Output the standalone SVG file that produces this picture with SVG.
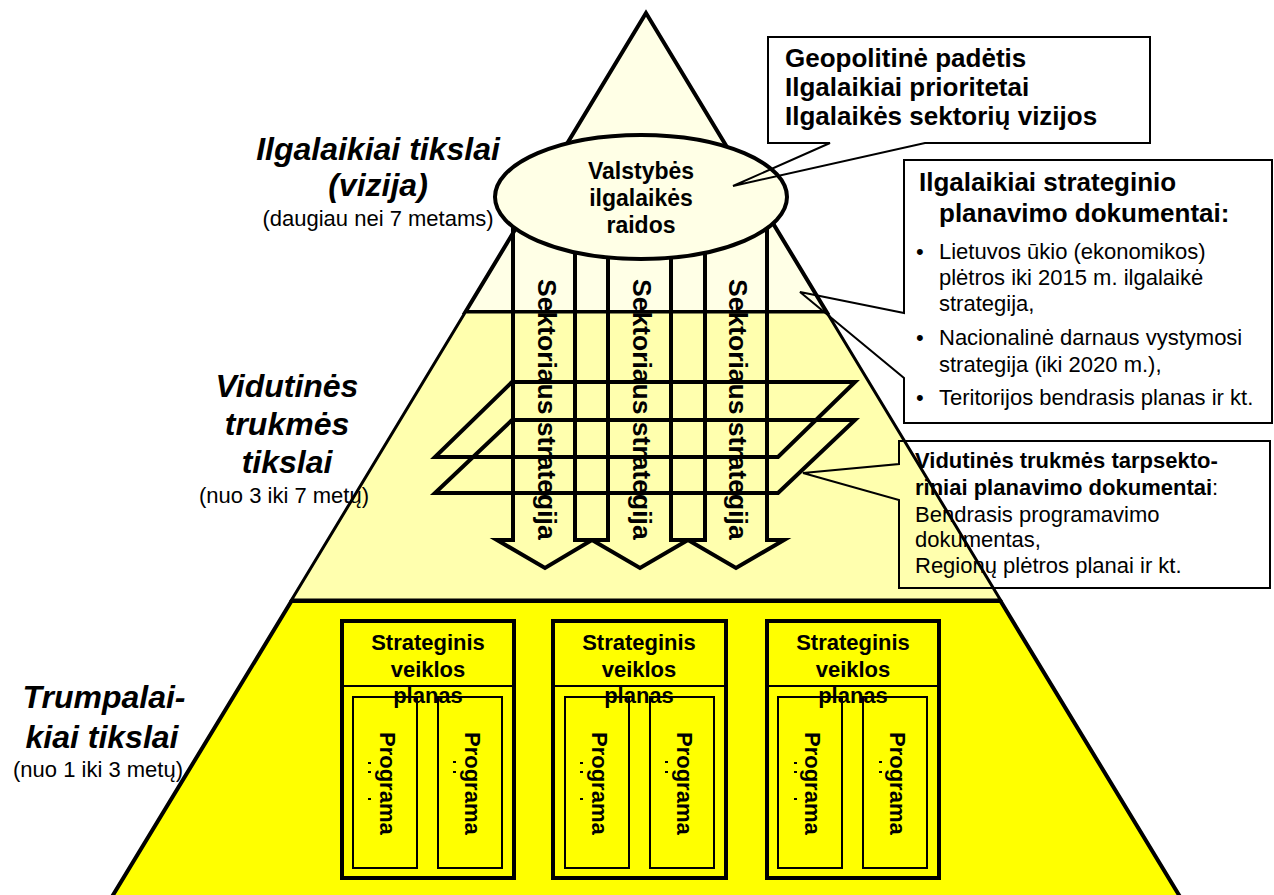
<svg xmlns="http://www.w3.org/2000/svg" width="1274" height="895" viewBox="0 0 1274 895">
<style>
text{font-family:"Liberation Sans",Arial,sans-serif;fill:#000}
.b{font-weight:bold}
.ti{font-weight:bold;font-style:italic;font-size:32px;text-anchor:middle}
.sub{font-size:22px;text-anchor:middle}
.sect{fill:none;stroke:#000;stroke-width:4;stroke-linejoin:miter}
.call{fill:none;stroke:#000;stroke-width:2}
.arrtxt{font-weight:bold;font-size:26.5px}
.prog{font-weight:bold;font-size:22px}
.hdr{font-weight:bold;font-size:22px;text-anchor:middle}
.box{fill:none;stroke:#000;stroke-width:4}
.pbox{fill:none;stroke:#000;stroke-width:2}
.dot{fill:#000}
.t22{font-size:22px}
.t26{font-size:26px;font-weight:bold}
</style>
<rect width="1274" height="895" fill="#fff"/>
<g id="pyramid">
  <polygon points="646,13 465.4,312 826.6,312" fill="#FFFFE6" stroke="#000" stroke-width="4" stroke-linejoin="miter"/>
  <polygon points="465.4,312 826.6,312 1000.5,600 291.5,600" fill="#FFFFAE" stroke="#000" stroke-width="3"/>
  <polygon points="291.5,601 1000.5,601 1182,900 110,900" fill="#FFFF00" stroke="#000" stroke-width="4"/>
</g>
<g id="connectors">
  <path class="sect" d="M513,200 V540 H497 L545,568 L592,540 H575 V200"/>
  <path class="sect" d="M608,200 V540 H592 L640,568 L688,540 H671 V200"/>
  <path class="sect" d="M705,200 V540 H688 L736,568 L784,540 H767 V200"/>
  <polygon class="sect" points="512,382 855,382 778,457 435,457"/>
  <polygon class="sect" points="512,420 855,420 778,493 435,493"/>
</g>
<g id="arrow-labels">
  <text class="arrtxt" transform="translate(538,279) rotate(90)">Sektoriaus strategija</text>
  <text class="arrtxt" transform="translate(633,279) rotate(90)">Sektoriaus strategija</text>
  <text class="arrtxt" transform="translate(729,279) rotate(90)">Sektoriaus strategija</text>
</g>
<g id="vision">
  <ellipse cx="641" cy="197" rx="146" ry="62" fill="#FFFFE6" stroke="#000" stroke-width="4"/>
  <text class="b" font-size="23" text-anchor="middle" x="641" y="179">Valstybės</text>
  <text class="b" font-size="23" text-anchor="middle" x="641" y="206">ilgalaikės</text>
  <text class="b" font-size="23" text-anchor="middle" x="641" y="233">raidos</text>
</g>
<g id="plan1">
  <rect class="box" x="342" y="621" width="172" height="257"/>
  <line x1="342" y1="686" x2="514" y2="686" stroke="#000" stroke-width="2"/>
  <rect class="pbox" x="353" y="697" width="64" height="171"/>
  <rect class="pbox" x="438" y="697" width="64" height="171"/>
  <text class="hdr" x="428" y="650">Strateginis</text>
  <text class="hdr" x="428" y="677">veiklos</text>
  <text class="hdr" x="428" y="703">planas</text>
  <text class="prog" transform="translate(380,732) rotate(90)">Programa</text>
  <text class="prog" transform="translate(465,732) rotate(90)">Programa</text>
  <rect class="dot" x="368" y="762" width="3" height="2"/><rect class="dot" x="368" y="771" width="3" height="2"/><rect class="dot" x="368" y="798" width="3" height="2"/>
  <rect class="dot" x="453" y="761" width="3" height="2"/><rect class="dot" x="453" y="771" width="3" height="2"/>
</g>
<g id="plan2">
  <rect class="box" x="553" y="621" width="173" height="257"/>
  <line x1="553" y1="686" x2="726" y2="686" stroke="#000" stroke-width="2"/>
  <rect class="pbox" x="565" y="697" width="64" height="171"/>
  <rect class="pbox" x="650" y="697" width="64" height="171"/>
  <text class="hdr" x="639" y="650">Strateginis</text>
  <text class="hdr" x="639" y="677">veiklos</text>
  <text class="hdr" x="639" y="703">planas</text>
  <text class="prog" transform="translate(592,732) rotate(90)">Programa</text>
  <text class="prog" transform="translate(677,732) rotate(90)">Programa</text>
  <rect class="dot" x="580" y="762" width="3" height="2"/><rect class="dot" x="580" y="771" width="3" height="2"/><rect class="dot" x="580" y="798" width="3" height="2"/>
  <rect class="dot" x="665" y="761" width="3" height="2"/><rect class="dot" x="665" y="771" width="3" height="2"/>
</g>
<g id="plan3">
  <rect class="box" x="767" y="621" width="172" height="257"/>
  <line x1="767" y1="686" x2="939" y2="686" stroke="#000" stroke-width="2"/>
  <rect class="pbox" x="778" y="697" width="64" height="171"/>
  <rect class="pbox" x="863" y="697" width="64" height="171"/>
  <text class="hdr" x="853" y="650">Strateginis</text>
  <text class="hdr" x="853" y="677">veiklos</text>
  <text class="hdr" x="853" y="703">planas</text>
  <text class="prog" transform="translate(805,732) rotate(90)">Programa</text>
  <text class="prog" transform="translate(890,732) rotate(90)">Programa</text>
  <rect class="dot" x="794" y="762" width="3" height="2"/><rect class="dot" x="794" y="771" width="3" height="2"/><rect class="dot" x="794" y="798" width="3" height="2"/>
  <rect class="dot" x="879" y="761" width="3" height="2"/><rect class="dot" x="879" y="771" width="3" height="2"/>
</g>
<g id="callout-geo">
  <path class="call" d="M768,37 H1150 V143 H925 L733,186 L830,143 H768 Z"/>
  <text class="t26" x="785" y="67">Geopolitinė padėtis</text>
  <text class="t26" x="785" y="96">Ilgalaikiai prioritetai</text>
  <text class="t26" x="785" y="125">Ilgalaikės sektorių vizijos</text>
</g>
<g id="callout-long">
  <path class="call" d="M904,160 H1272 V423 H904 V378 L800,292 L904,313 Z"/>
  <text class="t26" x="919" y="191">Ilgalaikiai strateginio</text>
  <text class="t26" x="939" y="222">planavimo dokumentai:</text>
  <text class="t22" x="916" y="259">•</text>
  <text class="t22" x="939" y="259">Lietuvos ūkio (ekonomikos)</text>
  <text class="t22" x="939" y="285">plėtros iki 2015 m. ilgalaikė</text>
  <text class="t22" x="939" y="311">strategija,</text>
  <text class="t22" x="916" y="345">•</text>
  <text class="t22" x="939" y="345">Nacionalinė darnaus vystymosi</text>
  <text class="t22" x="939" y="372">strategija (iki 2020 m.),</text>
  <text class="t22" x="916" y="405">•</text>
  <text class="t22" x="939" y="405">Teritorijos bendrasis planas ir kt.</text>
</g>
<g id="callout-mid">
  <path class="call" d="M899,441 H1270 V588 H899 V500 L803,473 L899,464 Z"/>
  <text class="t22 b" x="915" y="468">Vidutinės trukmės tarpsekto-</text>
  <text class="t22" x="915" y="495"><tspan class="b">riniai planavimo dokumentai</tspan>:</text>
  <text class="t22" x="915" y="522">Bendrasis programavimo</text>
  <text class="t22" x="915" y="547">dokumentas,</text>
  <text class="t22" x="915" y="573">Regionų plėtros planai ir kt.</text>
</g>
<g id="label-long">
  <text class="ti" x="378" y="160">Ilgalaikiai tikslai</text>
  <text class="ti" x="378" y="196">(vizija)</text>
  <text class="sub" x="378" y="226">(daugiau nei 7 metams)</text>
</g>
<g id="label-mid">
  <text class="ti" x="287" y="397">Vidutinės</text>
  <text class="ti" x="287" y="435">trukmės</text>
  <text class="ti" x="287" y="473">tikslai</text>
  <text class="sub" x="284" y="503">(nuo 3 iki 7 metų)</text>
</g>
<g id="label-short">
  <text class="ti" x="104" y="708">Trumpalai-</text>
  <text class="ti" x="102" y="748">kiai tikslai</text>
  <text class="sub" x="98" y="777">(nuo 1 iki 3 metų)</text>
</g>
</svg>
